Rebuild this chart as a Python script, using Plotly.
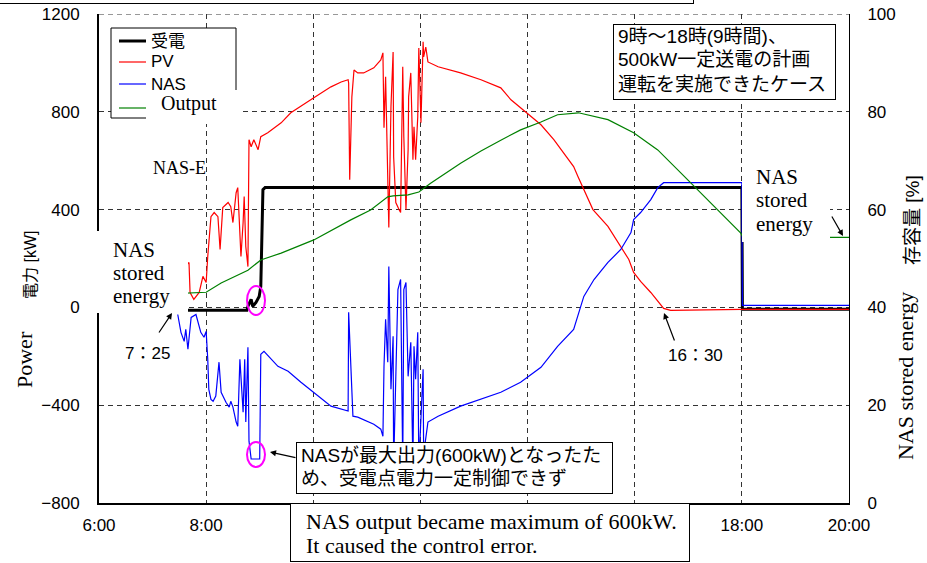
import plotly.graph_objects as go

# ---------------- data (time in hours) ----------------
recv_t = [7.42, 8.76, 8.78, 8.84, 8.87, 8.93, 8.99, 9.02, 9.06, 9.10, 18.00, 18.01, 20.00]
recv_kw = [-12, -12, 4, 33, 4, 20, 45, 86, 482, 490, 490, -8, -8]

pv_t = [7.42, 7.55, 7.68, 7.70, 7.77, 7.87, 7.94, 8.00, 8.03, 8.09,
        8.15, 8.22, 8.26, 8.31, 8.41, 8.46, 8.50, 8.56, 8.59, 8.65,
        8.69, 8.71, 8.74, 8.78, 8.80, 8.84, 8.89, 8.97, 9.02, 9.15,
        9.40, 9.58, 10.01, 10.33, 10.52, 10.65, 10.66, 10.68, 10.72, 10.76,
        10.83, 10.94, 11.13, 11.26, 11.30, 11.32, 11.35, 11.39, 11.41, 11.45,
        11.49, 11.50, 11.54, 11.60, 11.63, 11.67, 11.69, 11.73, 11.77, 11.78,
        11.82, 11.86, 11.88, 11.91, 11.95, 11.97, 12.01, 12.05, 12.06, 12.10,
        12.14, 12.33, 12.75, 13.13, 13.50, 13.69, 14.25, 14.49, 14.86, 14.94,
        15.03, 15.22, 15.50, 15.74, 15.89, 15.98, 16.11, 16.30, 16.43, 16.54,
        16.67, 18.00, 20.00]
pv_kw = [110, 150, 184, 61, 33, 61, 127, 102, 208, 371,
         388, 371, 237, 408, 429, 412, 347, 469, 490, 208,
         347, 453, 249, 167, 686, 657, 686, 645, 698, 714,
         755, 796, 857, 902, 922, 931, 918, 522, 861, 971,
         959, 959, 980, 1012, 1041, 735, 943, 453, 327, 820,
         1045, 616, 429, 400, 388, 984, 698, 400, 645, 861,
         959, 604, 739, 604, 780, 1061, 755, 1086, 1025, 1065,
         1004, 984, 959, 931, 898, 849, 747, 686, 576, 535,
         490, 400, 331, 249, 196, 143, 106, 61, 24, -4,
         -12, -8, -8]

nas_t = [7.47, 7.53, 7.59, 7.62, 7.66, 7.72, 7.81, 7.90, 7.96, 8.00,
         8.03, 8.05, 8.09, 8.13, 8.18, 8.24, 8.28, 8.37, 8.43, 8.46,
         8.50, 8.52, 8.56, 8.59, 8.63, 8.69, 8.72, 8.74, 8.78, 8.80,
         8.84, 9.00, 9.02, 9.08, 9.21, 9.34, 9.53, 9.77, 10.33, 10.65,
         10.66, 10.70, 10.74, 10.83, 11.13, 11.26, 11.30, 11.32, 11.35, 11.39,
         11.41, 11.45, 11.49, 11.50, 11.58, 11.63, 11.67, 11.69, 11.73, 11.77,
         11.82, 11.86, 11.88, 11.91, 11.95, 11.97, 12.05, 12.06, 12.14, 12.33,
         12.75, 13.50, 13.87, 14.25, 14.56, 14.86, 15.05, 15.24, 15.50, 15.74,
         15.93, 15.98, 16.11, 16.30, 16.43, 16.54, 18.00, 18.01, 20.00]
nas_kw = [-29, -102, -139, -90, -171, -41, -29, -102, -122, -98,
          -212, -335, -376, -384, -363, -224, -347, -388, -408, -384,
          -408, -429, -469, -486, -212, -429, -212, -469, -163, -547,
          -620, -620, -192, -180, -212, -241, -261, -306, -404, -424,
          -20, -224, -445, -449, -478, -498, -527, -241, -49, -224,
          167, -335, -118, -650, 73, 114, -650, 73, 102, -282,
          -143, -650, -159, -294, -102, -650, -253, -600, -469, -445,
          -404, -347, -306, -245, -159, -90, 45, 114, 184, 237,
          306, 359, 388, 441, 490, 510, 510, 8, 8]

soc_t = [7.42, 7.68, 8.00, 8.28, 8.78, 9.02, 9.40, 10.01, 10.52, 10.70,
         11.07, 11.39, 11.49, 11.77, 11.97, 12.19, 12.75, 13.13, 13.50, 13.87,
         14.25, 14.56, 14.95, 15.50, 15.98, 16.43, 16.86, 17.36, 17.74, 17.98,
         18.02, 20.00]
soc_pct = [42.8, 42.9, 43.1, 45.0, 47.6, 49.7, 51.1, 53.8, 56.9, 57.9,
           59.9, 62.6, 62.8, 63.0, 63.6, 65.4, 69.5, 72.0, 74.2, 76.3,
           77.9, 79.4, 79.8, 78.4, 75.7, 72.2, 67.5, 62.0, 57.9, 55.2,
           54.3, 54.3]

x_ticks = [6, 8, 10, 12, 14, 16, 18, 20]
# labels for 10:00-16:00 are hidden by the note box in the original
x_ticktext = ["6:00", "8:00", "", "", "", "", "18:00", "20:00"]
y_top = 1200

# ---------------- styling helpers ----------------
SANS = "Liberation Sans, Arial, Noto Sans CJK JP, sans-serif"
SERIF = "Liberation Serif, Times New Roman, serif"
JP = "Liberation Sans, Noto Sans CJK JP, sans-serif"
L, R, T, B = 99, 849, 14, 503  # plot area in pixels
FW, FH = 927, 563


def PX(x):
    return (x - L) / (R - L)


def PY(y):
    return (B - y) / (B - T)


def box(x0, y0, x1, y1, border=False):
    bw = 1 if border else 0
    return dict(xref="paper", yref="paper", x=PX(x0), y=PY(y0),
                xanchor="left", yanchor="top", text=" ", showarrow=False,
                width=x1 - x0 - 2 * bw, height=y1 - y0 - 2 * bw,
                bgcolor="white", borderpad=0, borderwidth=bw,
                bordercolor="black" if border else "rgba(0,0,0,0)")


def txt(x, y, s, size, fam, anchor="left", angle=0):
    return dict(xref="paper", yref="paper", x=PX(x), y=PY(y),
                xanchor=anchor, yanchor="middle", text=s, showarrow=False,
                textangle=angle, borderpad=0,
                font=dict(size=size, family=fam, color="black"))


def arrow(hx, hy, tx, ty):
    return dict(xref="paper", yref="paper", x=PX(hx), y=PY(hy),
                ax=tx - hx, ay=ty - hy, axref="pixel", ayref="pixel",
                text="", showarrow=True, arrowhead=2, arrowsize=1,
                arrowwidth=1.2, arrowcolor="black", standoff=0, startstandoff=0)


fig = go.Figure()
fig.add_trace(go.Scatter(x=recv_t, y=recv_kw, mode="lines", name="受電",
                         line=dict(color="black", width=3)))
fig.add_trace(go.Scatter(x=pv_t, y=pv_kw, mode="lines", name="PV",
                         line=dict(color="#ff0000", width=1.2)))
fig.add_trace(go.Scatter(x=nas_t, y=nas_kw, mode="lines", name="NAS",
                         line=dict(color="#0000ff", width=1.2)))
fig.add_trace(go.Scatter(x=soc_t, y=soc_pct, mode="lines", name="NAS-E",
                         yaxis="y2", line=dict(color="#008000", width=1.2)))

GRIDC = "#333333"
grid = dict(showgrid=True, gridcolor=GRIDC, gridwidth=1, griddash="5px,4px",
            zeroline=False, ticks="", showline=True, linecolor="black",
            automargin=False, ticklabeloverflow="allow")

fig.update_layout(
    width=FW, height=FH, showlegend=False,
    margin=dict(l=L, r=FW - R, t=T, b=FH - B, pad=0, autoexpand=False),
    paper_bgcolor="white", plot_bgcolor="white",
    xaxis=dict(range=[6, 20], tickvals=x_ticks, ticktext=x_ticktext,
               tickfont=dict(size=17, family=SANS, color="black"),
               linewidth=1.5, ticklabelstandoff=6, **grid),
    yaxis=dict(range=[-800, y_top], tick0=0, dtick=400,
               tickfont=dict(size=17, family=SANS, color="black"),
               linewidth=2, ticklabelstandoff=14, **grid),
    yaxis2=dict(range=[0, 100], tick0=0, dtick=20, overlaying="y", side="right",
                showgrid=False, zeroline=False, ticks="", showline=True,
                linecolor="black", linewidth=1, ticklabelstandoff=14,
                automargin=False, ticklabeloverflow="allow",
                tickfont=dict(size=17, family=SANS, color="black")),
)

shapes = [
    # dashed grid line along the top edge (plotly drops the end gridline)
    dict(type="line", xref="paper", yref="y", x0=0, x1=1, y0=y_top, y1=y_top,
         line=dict(color=GRIDC, width=1, dash="5px,4px"), layer="below"),
    # legend box and samples
    dict(type="rect", xref="paper", yref="paper", x0=PX(111), x1=PX(236), y0=PY(28), y1=PY(118),
         fillcolor="white", line=dict(color="black", width=1), layer="above"),
    dict(type="line", xref="paper", yref="paper", x0=PX(119), x1=PX(146), y0=PY(41), y1=PY(41),
         line=dict(color="black", width=3), layer="above"),
    dict(type="line", xref="paper", yref="paper", x0=PX(119), x1=PX(146), y0=PY(62), y1=PY(62),
         line=dict(color="#ff0000", width=1.2), layer="above"),
    dict(type="line", xref="paper", yref="paper", x0=PX(119), x1=PX(146), y0=PY(84), y1=PY(84),
         line=dict(color="#0000ff", width=1.2), layer="above"),
    dict(type="line", xref="paper", yref="paper", x0=PX(119), x1=PX(146), y0=PY(108), y1=PY(108),
         line=dict(color="#008000", width=1.2), layer="above"),
    # magenta ellipses
    dict(type="circle", xref="paper", yref="paper", x0=PX(247), x1=PX(265), y0=PY(286), y1=PY(315),
         line=dict(color="#ff00ff", width=2), layer="above"),
    dict(type="circle", xref="paper", yref="paper", x0=PX(247), x1=PX(265), y0=PY(442), y1=PY(467),
         line=dict(color="#ff00ff", width=2), layer="above"),
]

ann = [
    # frame of a box above the chart (only its lower edge shows)
    box(-4, -40, 694, 4, border=True),
    txt(150, 41, "受電", 17, JP),
    txt(150, 62, "PV", 17, SANS),
    txt(150, 84, "NAS", 17, SANS),
    box(146, 90, 240, 124),
    txt(160, 103, "Output", 20, SERIF),
    txt(152, 168, "NAS-E", 18, SERIF),
    # left stored energy label
    box(88, 231, 188, 313),
    txt(112, 250, "NAS", 21, SERIF),
    txt(112, 273, "stored", 21, SERIF),
    txt(112, 296, "energy", 21, SERIF),
    # right stored energy label
    box(742, 158, 830, 242),
    txt(755, 177, "NAS", 21, SERIF),
    txt(755, 200, "stored", 21, SERIF),
    txt(755, 224, "energy", 21, SERIF),
    arrow(843, 236, 831, 215),
    # top-right note
    box(613, 24, 836, 100, border=True),
    txt(617, 36, "9時～18時(9時間)、", 19, JP),
    txt(617, 60, "500kW一定送電の計画", 19, JP),
    txt(617, 84, "運転を実施できたケース", 19, JP),
    # bottom japanese note
    arrow(270, 452, 297, 458),
    box(296, 442, 613, 494, border=True),
    txt(300, 455, "NASが最大出力(600kW)となったた", 19, JP),
    txt(300, 478, "め、受電点電力一定制御できず", 19, JP),
    # bottom english note
    box(290, 503, 690, 562, border=True),
    txt(305, 521, "NAS output became maximum of 600kW.", 22, SERIF),
    txt(305, 545, "It caused the control error.", 22, SERIF),
    # time markers
    arrow(172, 313, 158, 334),
    txt(147, 353, "7：25", 17, JP, anchor="center"),
    arrow(664, 313, 675, 342),
    txt(695, 355, "16：30", 17, JP, anchor="center"),
    # axis titles
    txt(24, 360, "Power", 22, SERIF, anchor="center", angle=-90),
    txt(30, 265, "電力 [kW]", 16, JP, anchor="center", angle=-90),
    txt(912, 220, "存容量 [%]", 19, JP, anchor="center", angle=-90),
    txt(905, 376, "NAS stored energy", 22, SERIF, anchor="center", angle=-90),
]

fig.update_layout(shapes=shapes, annotations=ann)
fig.write_html("out.html",
               config={"displayModeBar": False},
               post_script="document.body.style.margin='0';document.body.style.overflow='hidden';")
